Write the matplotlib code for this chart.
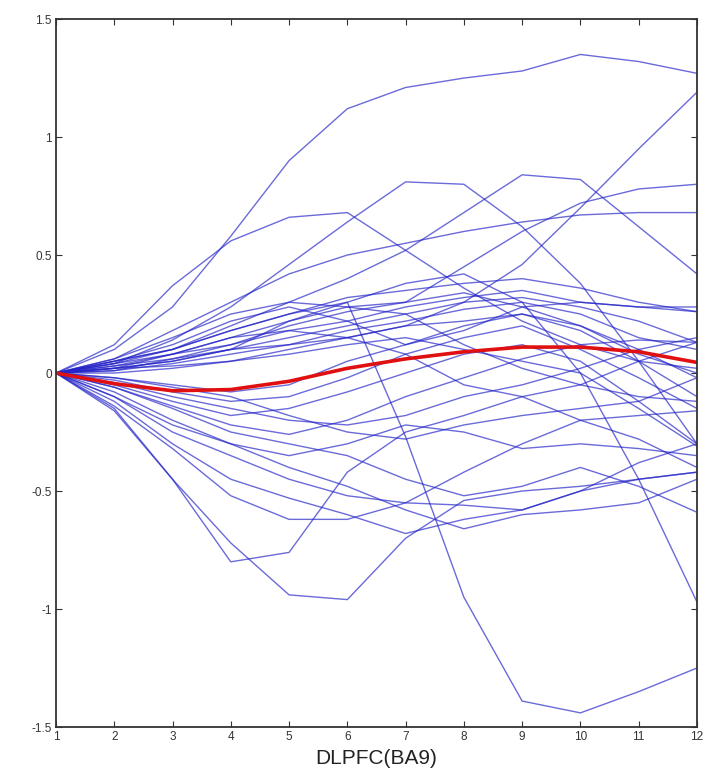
import matplotlib
matplotlib.use("Agg")
import matplotlib.pyplot as plt

# recording sessions along the x axis
sessions = list(range(1, 13))

# per-subject change curves (blue)
curves_high = [
    [0, 0.10, 0.28, 0.58, 0.90, 1.12, 1.21, 1.25, 1.28, 1.35, 1.32, 1.27],
    [0, 0.12, 0.37, 0.56, 0.66, 0.68, 0.52, 0.36, 0.22, 0.12, 0.05, 0.02],
    [0, 0.04, 0.14, 0.28, 0.46, 0.64, 0.81, 0.80, 0.62, 0.38, 0.05, -0.30],
    [0, 0.02, 0.08, 0.15, 0.22, 0.30, 0.38, 0.42, 0.30, 0.00, -0.45, -0.97],
    [0, 0.02, 0.05, 0.10, 0.12, 0.15, 0.20, 0.30, 0.46, 0.70, 0.95, 1.19],
    [0, 0.05, 0.10, 0.20, 0.30, 0.40, 0.52, 0.68, 0.84, 0.82, 0.62, 0.42],
    [0, 0.06, 0.15, 0.25, 0.30, 0.28, 0.30, 0.45, 0.60, 0.72, 0.78, 0.80],
    [0, 0.06, 0.18, 0.30, 0.42, 0.50, 0.55, 0.60, 0.64, 0.67, 0.68, 0.68],
]

curves_mid = [
    [0, 0.03, 0.08, 0.12, 0.18, 0.22, 0.28, 0.32, 0.35, 0.30, 0.28, 0.28],
    [0, 0.02, 0.05, 0.10, 0.15, 0.20, 0.25, 0.30, 0.32, 0.28, 0.22, 0.13],
    [0, 0.01, 0.04, 0.08, 0.12, 0.18, 0.22, 0.27, 0.30, 0.25, 0.15, 0.10],
    [0, 0.00, 0.02, 0.05, 0.10, 0.15, 0.20, 0.22, 0.25, 0.20, 0.10, -0.02],
    [0, 0.05, 0.12, 0.22, 0.28, 0.22, 0.12, 0.18, 0.28, 0.30, 0.28, 0.26],
    [0, -0.02, -0.05, -0.08, -0.05, 0.05, 0.12, 0.20, 0.25, 0.18, 0.05, -0.10],
    [0, -0.03, -0.08, -0.12, -0.10, -0.02, 0.08, 0.15, 0.20, 0.10, -0.02, -0.15],
    [0, 0.02, 0.03, 0.05, 0.08, 0.12, 0.15, 0.10, 0.05, 0.00, -0.15, -0.31],
    [0, -0.05, -0.12, -0.18, -0.15, -0.08, 0.00, 0.08, 0.12, 0.05, -0.12, -0.30],
    [0, 0.04, 0.08, 0.15, 0.18, 0.15, 0.08, -0.05, -0.10, -0.20, -0.28, -0.40],
    [0, -0.04, -0.10, -0.15, -0.20, -0.22, -0.18, -0.10, -0.05, 0.02, 0.10, 0.15],
    [0, 0.03, 0.06, 0.10, 0.22, 0.28, 0.25, 0.12, 0.02, -0.05, -0.10, -0.12],
    [0, -0.02, -0.06, -0.10, -0.18, -0.25, -0.28, -0.22, -0.18, -0.15, -0.12, -0.02],
    [0, 0.05, 0.10, 0.18, 0.25, 0.32, 0.35, 0.38, 0.40, 0.36, 0.30, 0.26],
    [0, 0.01, 0.06, 0.12, 0.20, 0.26, 0.30, 0.34, 0.28, 0.20, 0.08, 0.00],
    [0, -0.06, -0.14, -0.22, -0.26, -0.20, -0.10, -0.02, 0.06, 0.12, 0.14, 0.13],
]

curves_low = [
    [0, -0.15, -0.45, -0.80, -0.76, -0.42, -0.25, -0.18, -0.10, -0.05, 0.05, 0.13],
    [0, -0.16, -0.45, -0.72, -0.94, -0.96, -0.70, -0.54, -0.50, -0.48, -0.45, -0.42],
    [0, 0.04, 0.10, 0.18, 0.25, 0.30, -0.27, -0.95, -1.39, -1.44, -1.35, -1.25],
    [0, -0.12, -0.30, -0.45, -0.53, -0.60, -0.68, -0.62, -0.58, -0.50, -0.45, -0.42],
    [0, -0.10, -0.25, -0.35, -0.45, -0.52, -0.55, -0.56, -0.58, -0.50, -0.38, -0.30],
    [0, -0.08, -0.20, -0.30, -0.40, -0.48, -0.58, -0.66, -0.60, -0.58, -0.55, -0.45],
    [0, -0.14, -0.32, -0.52, -0.62, -0.62, -0.55, -0.42, -0.30, -0.20, -0.18, -0.16],
    [0, -0.06, -0.15, -0.25, -0.30, -0.35, -0.45, -0.52, -0.48, -0.40, -0.48, -0.59],
    [0, -0.10, -0.22, -0.30, -0.35, -0.30, -0.22, -0.25, -0.32, -0.30, -0.32, -0.35],
]

# group mean (red)
mean_curve = [0, -0.045, -0.075, -0.07, -0.035, 0.02, 0.06, 0.09, 0.11, 0.11, 0.09, 0.045]

fig = plt.figure(figsize=(7.13, 7.81), dpi=100)
ax = fig.add_axes([0.0785, 0.0691, 0.899, 0.9065])

for c in curves_high + curves_mid + curves_low:
    ax.plot(sessions, c, color="#2424c8", lw=1.0, alpha=0.68)
ax.plot(sessions, mean_curve, color="#e01010", lw=2.6)

ax.set_xlim(1, 12)
ax.set_ylim(-1.5, 1.5)
ax.set_xticks(sessions)
ax.set_yticks([-1.5, -1, -0.5, 0, 0.5, 1, 1.5])
ax.set_yticklabels(["-1.5", "-1", "-0.5", "0", "0.5", "1", "1.5"])
ax.tick_params(direction="in", top=True, right=True, length=4, width=0.8,
               labelsize=8.5, colors="#333333", pad=3)
for s in ax.spines.values():
    s.set_color("#333333")
    s.set_linewidth(1.3)

ax.set_xlabel("DLPFC(BA9)", fontsize=15, family="Liberation Sans",
              labelpad=4, color="#222222")
for lab in ax.get_xticklabels() + ax.get_yticklabels():
    lab.set_family("Liberation Sans")

fig.savefig("out.png", dpi=100)
